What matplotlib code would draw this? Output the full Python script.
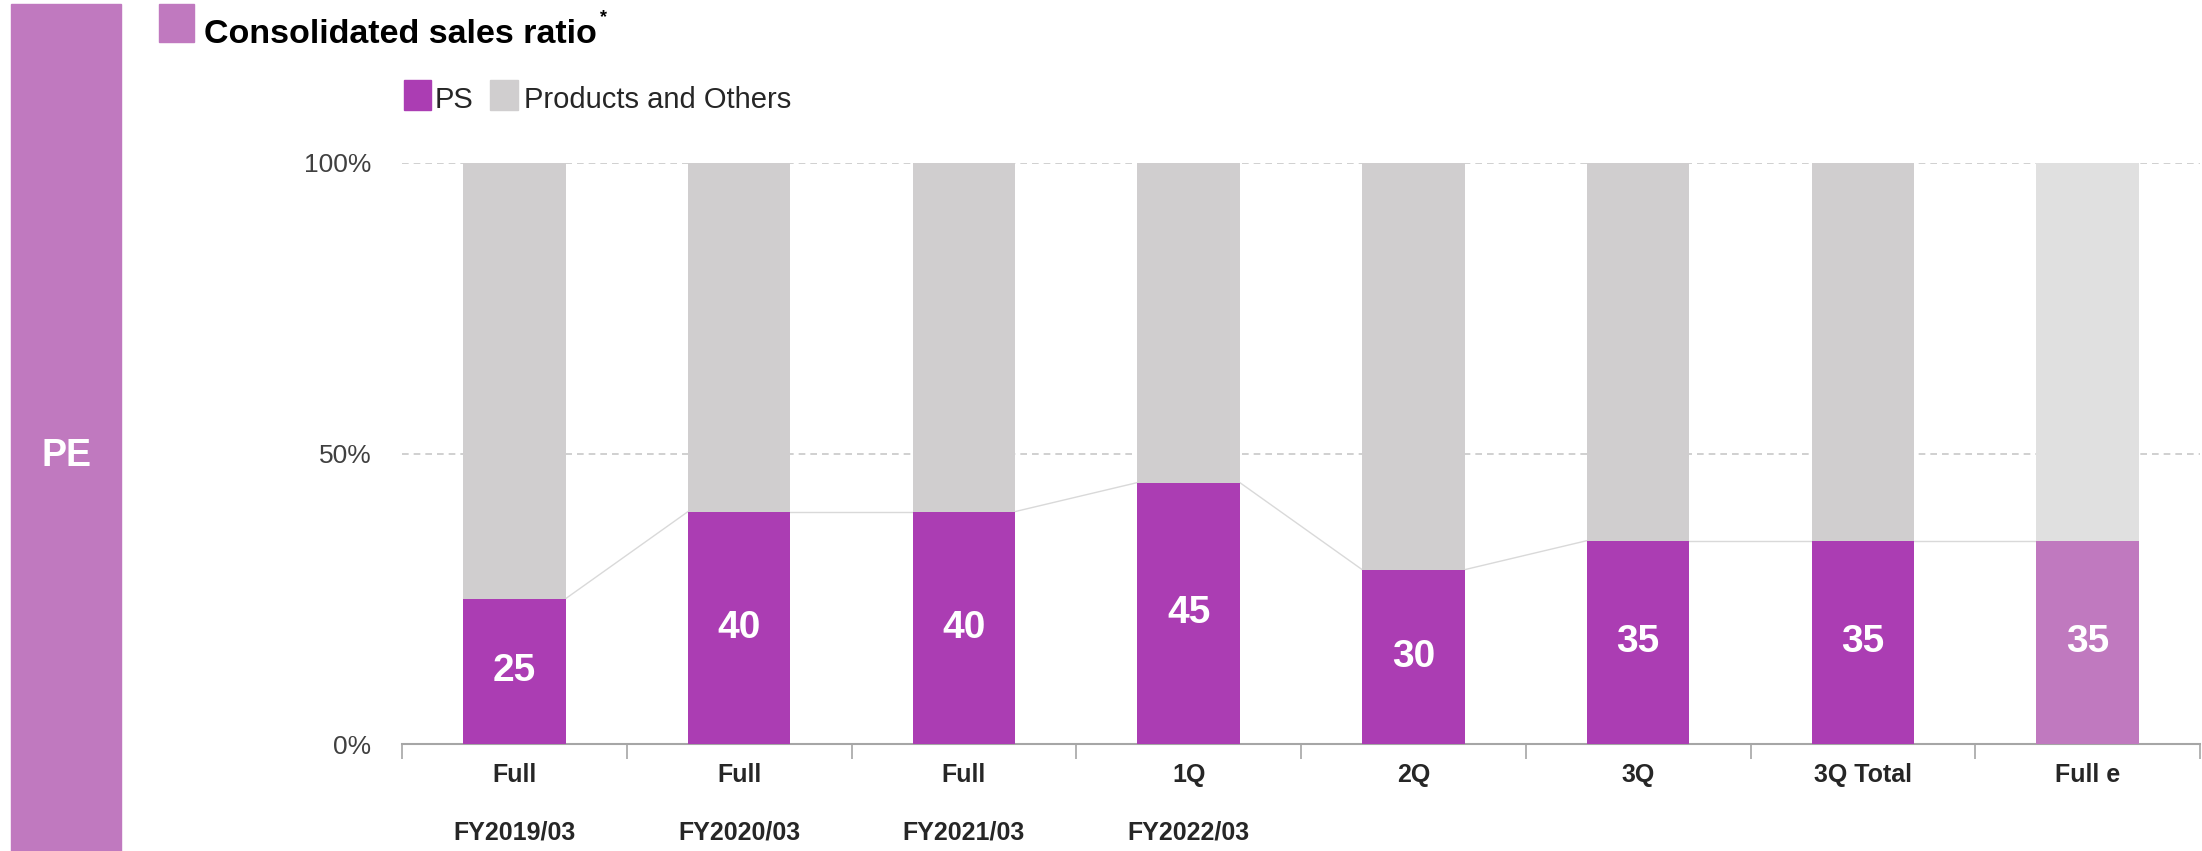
import numpy as np
import matplotlib.pyplot as plt
from matplotlib.patches import Rectangle
import matplotlib.transforms as mtransforms

plt.rcParams['font.family'] = ['Liberation Sans', 'DejaVu Sans']

# datos
categorias = ['Full', 'Full', 'Full', '1Q', '2Q', '3Q', '3Q Total', 'Full e']
anios = ['FY2019/03', 'FY2020/03', 'FY2021/03', 'FY2022/03']
ps = [25, 40, 40, 45, 30, 35, 35, 35]
otros = [100 - v for v in ps]

morado = '#AB3DB3'
morado_claro = '#C079BF'
gris = '#D0CECF'
gris_claro = '#E0E0E0'

W, H = 2202, 851
fig = plt.figure(figsize=(W / 100, H / 100), dpi=100)

# caja lateral PE
fig.patches.append(Rectangle((11 / W, 0), 110 / W, (H - 4) / H,
                             transform=fig.transFigure, color=morado_claro, zorder=0))
fig.text(66 / W, 1 - 456 / H, 'PE', color='white', fontsize=27, fontweight='bold',
         ha='center', va='center')

# titulo
fig.patches.append(Rectangle((159 / W, 1 - 42 / H), 35 / W, 38 / H,
                             transform=fig.transFigure, color=morado_claro))
titulo = fig.text(204 / W, 1 - 43 / H, 'Consolidated sales ratio', fontsize=24.5,
                  fontweight='bold', ha='left', va='baseline', color='black')
fig.canvas.draw()
bb = titulo.get_window_extent()
fig.text((bb.x1 + 3) / W, 1 - 22 / H, '*', fontsize=13, fontweight='bold',
         ha='left', va='baseline')

# leyenda
fig.patches.append(Rectangle((404 / W, 1 - 110 / H), 27 / W, 30 / H,
                             transform=fig.transFigure, color=morado))
fig.text(435 / W, 1 - 108 / H, 'PS', fontsize=21, ha='left', va='baseline', color='#262626')
fig.patches.append(Rectangle((490 / W, 1 - 110 / H), 28 / W, 30 / H,
                             transform=fig.transFigure, color=gris))
fig.text(524 / W, 1 - 108 / H, 'Products and Others', fontsize=21, ha='left', va='baseline',
         color='#262626')

ax = fig.add_axes([402 / W, (H - 744) / H, (2200 - 402) / W, (744 - 163) / H])
x = np.arange(len(ps))
ancho = 0.455

col_ps = [morado] * (len(ps) - 1) + [morado_claro]
col_ot = [gris] * (len(ps) - 1) + [gris_claro]
ax.bar(x, ps, ancho, color=col_ps, zorder=3)
ax.bar(x, otros, ancho, bottom=ps, color=col_ot, zorder=3)

# lineas de serie entre barras
for i in range(len(ps) - 1):
    ax.plot([i + ancho / 2, i + 1 - ancho / 2], [ps[i], ps[i + 1]], color='#D9D9D9',
            lw=1, zorder=2)

for i, v in enumerate(ps):
    ax.text(i, v / 2, str(v), color='white', fontsize=28, fontweight='bold',
            ha='center', va='center', zorder=4)

ax.set_xlim(-0.5, len(ps) - 0.5)
ax.set_ylim(0, 100)
ax.set_yticks([0, 50, 100])
ax.set_yticklabels(['0%', '50%', '100%'], fontsize=19, color='#404040')
ax.tick_params(axis='y', length=0, pad=22)
for yv in [50, 100]:
    ax.axhline(yv, color='#C8C8C8', lw=1.2, ls=(0, (4, 3)), zorder=1)

ax.set_xticks(x)
ax.set_xticklabels(categorias, fontsize=18, fontweight='bold', color='#262626')
ax.tick_params(axis='x', which='major', length=0, pad=14)
ax.set_xticks(np.arange(-0.5, len(ps)), minor=True)
ax.tick_params(axis='x', which='minor', length=11, color='#A6A6A6', width=1.2)

trans = mtransforms.blended_transform_factory(ax.transData, fig.transFigure)
for i, a in enumerate(anios):
    ax.text(i, 1 - 833 / H, a, transform=trans, fontsize=18, fontweight='bold',
            ha='center', va='center', color='#262626')

for s in ['top', 'right', 'left']:
    ax.spines[s].set_visible(False)
ax.spines['bottom'].set_color('#A6A6A6')
ax.spines['bottom'].set_linewidth(1.5)

fig.savefig('out.png', dpi=100)
